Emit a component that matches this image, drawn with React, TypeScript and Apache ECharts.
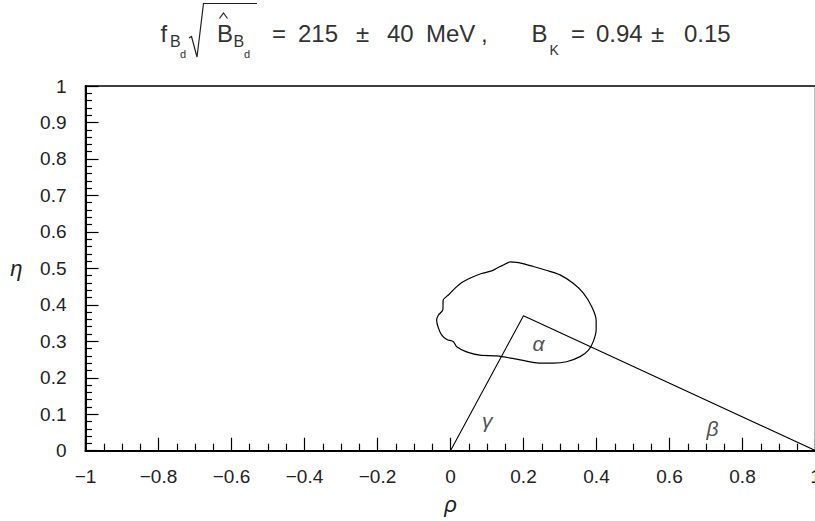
import React, { useEffect, useRef } from "react";
import * as echarts from "echarts";

// ---- data ----
const rhoRange = [-1, 1];
const etaRange = [0, 1];
const rhoStep = 0.2;
const etaStep = 0.1;

// allowed-region contour in (rho, eta)
const contour: [number, number][] = [
  [0.163, 0.518], [0.19, 0.515], [0.227, 0.505], [0.264, 0.494], [0.3, 0.482],
  [0.336, 0.459], [0.364, 0.432], [0.387, 0.395], [0.399, 0.358], [0.399, 0.331],
  [0.391, 0.299], [0.378, 0.276], [0.355, 0.258], [0.318, 0.244], [0.282, 0.24],
  [0.236, 0.241], [0.181, 0.251], [0.127, 0.26], [0.081, 0.262], [0.044, 0.271],
  [0.017, 0.285], [0.008, 0.299], [-0.01, 0.305], [-0.024, 0.317], [-0.033, 0.336],
  [-0.038, 0.358], [-0.033, 0.372], [-0.021, 0.386], [-0.02, 0.413], [-0.006, 0.427],
  [0.012, 0.445], [0.031, 0.461], [0.053, 0.473], [0.085, 0.486], [0.113, 0.493],
  [0.136, 0.505], [0.163, 0.518],
];

// unitarity triangle
const triangle: [number, number][] = [[0, 0], [0.2, 0.37], [1, 0]];

// angle labels
const angleNames = ["α", "γ", "β"];
const angleRho = [0.241, 0.101, 0.718];
const angleEta = [0.293, 0.084, 0.062];

// title pieces
const titleMain = ["f", "B", "=", "215", "±", "40", "MeV", ",", "B", "=", "0.94", "±", "0.15"];
const titleSub = ["B", "B", "K"];
const titleSubSub = ["d", "d"];

const FONT = '"Liberation Sans", Arial, Helvetica, sans-serif';
const INK = "#222";

function fmt(v: number): string {
  const r = Number(v.toFixed(2));
  const s = String(Math.abs(r));
  return r < 0 ? "\u2212" + s : s;
}

export default function App() {
  const ref = useRef<HTMLDivElement>(null);

  useEffect(() => {
    if (!ref.current) return;
    const chart = echarts.init(ref.current, undefined, { renderer: "svg" });

    const txt = (text: string, x: number, baseline: number, size: number, extra: any = {}) => ({
      type: "text",
      x,
      y: baseline - 0.3465 * size,
      silent: true,
      style: {
        text,
        fontSize: size,
        fontFamily: FONT,
        fill: "#333",
        align: "left",
        verticalAlign: "middle",
        ...extra,
      },
    });

    const mainX = [160.5, 217, 272, 298, 356, 387, 426, 481, 531.5, 571, 596, 651, 684];
    const subX = [170, 233.5, 549.5];
    const subBase = [47, 47, 55];
    const subSize = [16, 16, 14];
    const subsubX = [180, 244];

    const graphics: any[] = [];
    titleMain.forEach((t, i) => graphics.push(txt(t, mainX[i], 42, 24)));
    titleSub.forEach((t, i) => graphics.push(txt(t, subX[i], subBase[i], subSize[i])));
    titleSubSub.forEach((t, i) => graphics.push(txt(t, subsubX[i], 58, 11)));
    // square root sign with overline
    graphics.push({
      type: "polyline",
      silent: true,
      shape: { points: [[189, 38], [191.5, 36.5], [197, 57], [203.5, 3.5], [257, 3.5]] },
      style: { stroke: INK, lineWidth: 1.2, fill: "none" },
    });
    // hat over B
    graphics.push({
      type: "polyline",
      silent: true,
      shape: { points: [[219.5, 18.5], [223.5, 13], [227.5, 18.5]] },
      style: { stroke: INK, lineWidth: 1.2, fill: "none" },
    });

    const axisLabelStyle = { fontSize: 19, fontFamily: FONT, color: INK };
    const nameStyle = { fontSize: 22, fontFamily: FONT, fontStyle: "italic", color: INK };

    chart.setOption({
      animation: false,
      backgroundColor: "#fff",
      grid: {
        left: 85.5,
        right: 14.5,
        top: 86,
        bottom: 70.3,
        show: true,
        borderColor: "#000",
        borderWidth: 1.5,
        backgroundColor: "transparent",
        containLabel: false,
        outerBoundsMode: "none",
      },
      xAxis: {
        type: "value",
        min: rhoRange[0],
        max: rhoRange[1],
        interval: rhoStep,
        axisLine: { show: true, onZero: false, lineStyle: { color: "#000", width: 2 } },
        axisTick: { show: true, inside: true, length: 13, lineStyle: { color: "#000", width: 1.2 } },
        minorTick: { show: true, splitNumber: 4, length: 7, lineStyle: { color: "#000", width: 1.2 } },
        splitLine: { show: false },
        axisLabel: { ...axisLabelStyle, margin: 16, formatter: (v: number) => fmt(v) },
        name: "ρ",
        nameLocation: "middle",
        nameGap: 43,
        nameTextStyle: nameStyle,
      },
      yAxis: {
        type: "value",
        min: etaRange[0],
        max: etaRange[1],
        interval: etaStep,
        axisLine: { show: true, onZero: false, lineStyle: { color: "#000", width: 2 } },
        axisTick: { show: true, inside: true, length: 13, lineStyle: { color: "#000", width: 1.2 } },
        minorTick: { show: true, splitNumber: 5, length: 6.5, lineStyle: { color: "#000", width: 1.2 } },
        splitLine: { show: false },
        axisLabel: { ...axisLabelStyle, margin: 19, formatter: (v: number) => fmt(v) },
        name: "η",
        nameLocation: "middle",
        nameGap: 63,
        nameRotate: 0,
        nameTextStyle: nameStyle,
      },
      graphic: graphics,
      series: [
        {
          type: "line",
          data: contour,
          showSymbol: false,
          symbol: "none",
          smooth: 0.25,
          lineStyle: { color: "#000", width: 1.2 },
          silent: true,
        },
        {
          type: "line",
          data: triangle,
          showSymbol: false,
          symbol: "none",
          lineStyle: { color: "#000", width: 1.1 },
          silent: true,
        },
        {
          type: "scatter",
          data: angleNames.map((n, i) => ({ name: n, value: [angleRho[i], angleEta[i]] })),
          symbolSize: 1,
          itemStyle: { color: "transparent" },
          silent: true,
          label: {
            show: true,
            position: "inside",
            formatter: "{b}",
            ...nameStyle,
            fontSize: 21,
          },
        },
      ],
    });

    return () => chart.dispose();
  }, []);

  return (
    <div
      style={{
        position: "fixed",
        left: 0,
        top: 0,
        width: 815,
        height: 521,
        overflow: "hidden",
        background: "#fff",
      }}
    >
      <div ref={ref} style={{ width: 830, height: 521 }} />
    </div>
  );
}
